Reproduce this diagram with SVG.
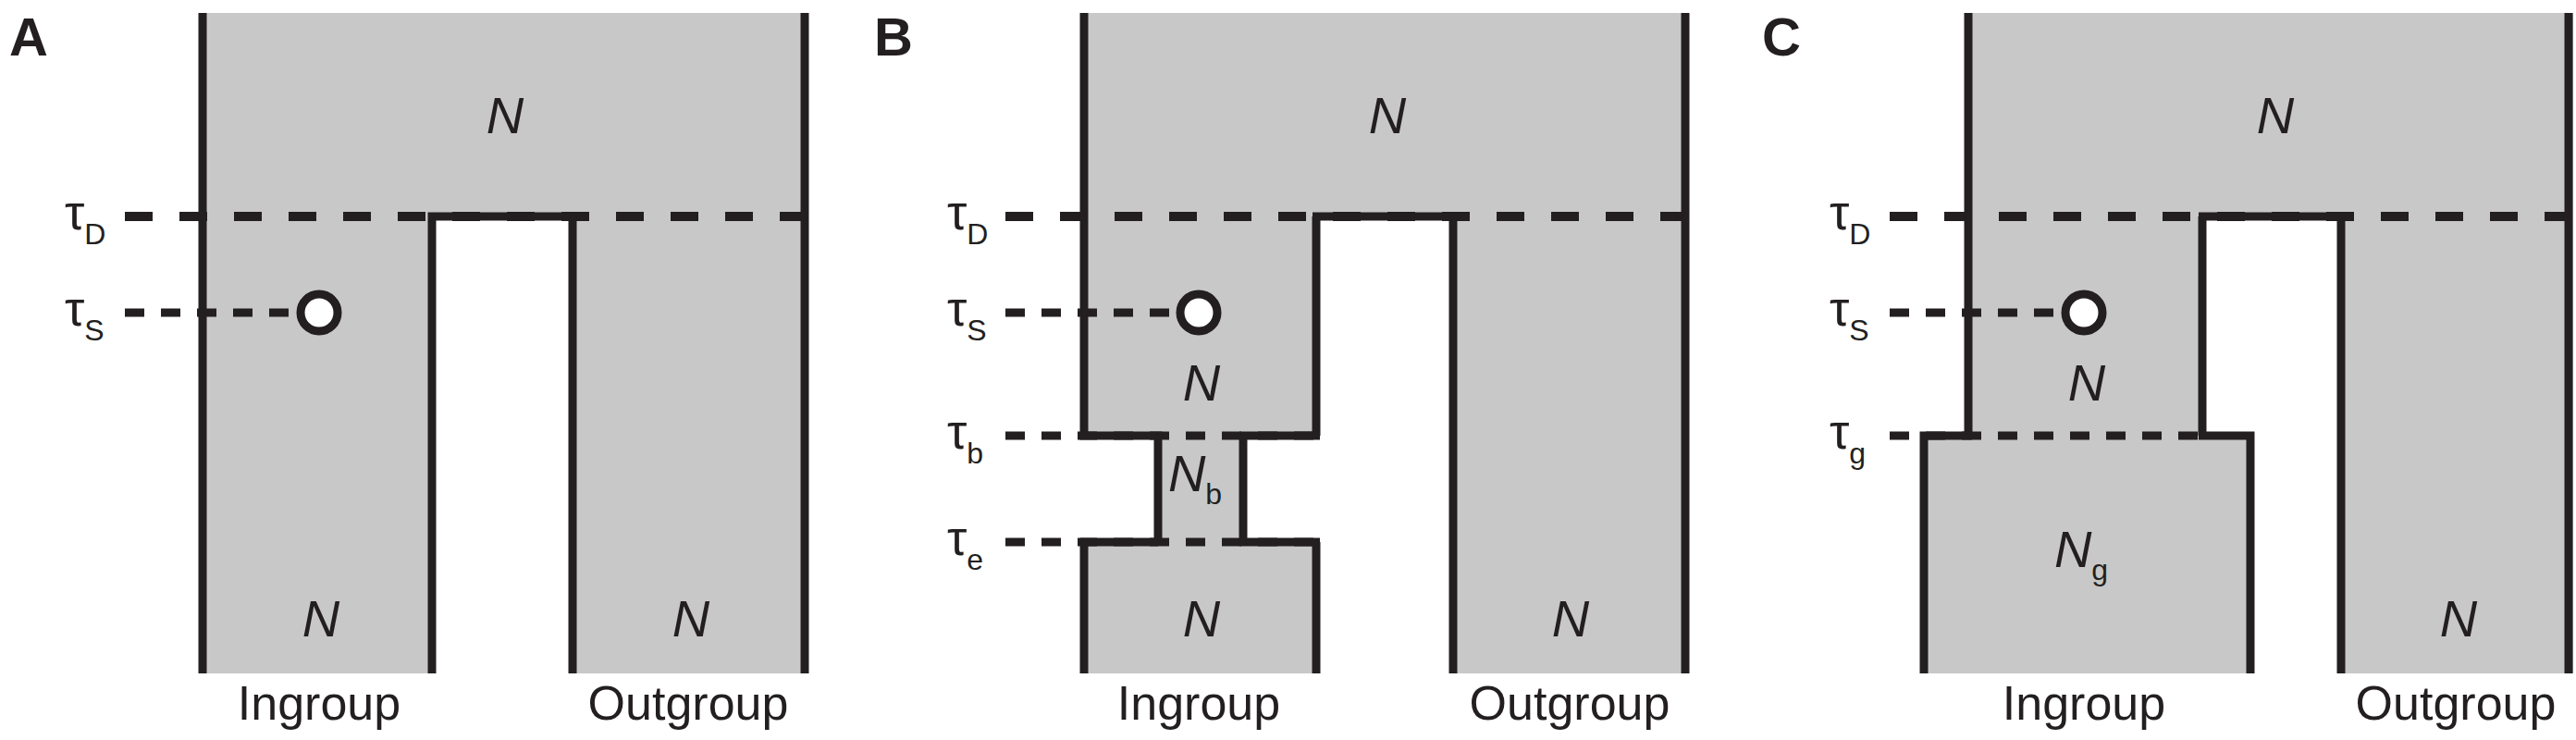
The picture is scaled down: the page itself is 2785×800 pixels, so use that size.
<svg xmlns="http://www.w3.org/2000/svg" width="2785" height="800" viewBox="0 0 2785 800">
<style>
.f{fill:#c8c8c8;stroke:none}
.w{fill:none;stroke:#231f20;stroke-width:9;stroke-linecap:butt}
.dD{fill:none;stroke:#231f20;stroke-width:10;stroke-dasharray:30 29}
.ds{fill:none;stroke:#231f20;stroke-width:9;stroke-dasharray:21 18}
.c{fill:#fff;stroke:#231f20;stroke-width:9}
.n{font-family:"Liberation Sans",Arial,sans-serif;font-style:italic;font-size:56px;fill:#231f20;text-anchor:middle}
.sub{font-style:normal;font-size:32px}
.t{font-family:"Liberation Sans",Arial,sans-serif;font-size:54px;fill:#231f20}
.ts{font-size:32px}
.lab{font-family:"Liberation Sans",Arial,sans-serif;font-size:52px;fill:#231f20;text-anchor:middle}
.pl{font-family:"Liberation Sans",Arial,sans-serif;font-size:58px;font-weight:bold;fill:#231f20}
</style>
<g id="panelA">
<text class="pl" x="10" y="60">A</text>
<path class="f" d="M219,14H870V728H619V234H471V728H219Z"/>
<g id="connectorsA">
<line class="dD" x1="135" y1="234" x2="870" y2="234"/>
<line class="ds" x1="135" y1="338" x2="322" y2="338"/>
</g>
<path class="w" d="M219,14V728M467,728V234H623M619,234V728M870,14V728"/>
<circle class="c" cx="345" cy="338" r="20"/>
<text class="t" x="70" y="248">τ<tspan class="ts" dy="16">D</tspan></text>
<text class="t" x="70" y="352">τ<tspan class="ts" dy="16">S</tspan></text>
<text class="n" x="546" y="144">N</text>
<text class="n" x="347" y="688">N</text>
<text class="n" x="747" y="688">N</text>
<text class="lab" x="345" y="778">Ingroup</text>
<text class="lab" x="744" y="778">Outgroup</text>
</g>
<g id="panelB">
<text class="pl" x="945" y="60">B</text>
<path class="f" d="M1172,14H1822V728H1571V234H1423V471H1344V586H1423V728H1172V586H1248V471H1172Z"/>
<g id="connectorsB">
<line class="dD" x1="1087" y1="234" x2="1822" y2="234"/>
<line class="ds" x1="1087" y1="338" x2="1273" y2="338"/>
<line class="ds" x1="1087" y1="471" x2="1423" y2="471"/>
<line class="ds" x1="1087" y1="586" x2="1423" y2="586"/>
</g>
<path class="w" d="M1172,14V471H1252V586M1168,471H1248M1340,471H1427M1423,234V471M1344,471V586M1168,586H1252M1340,586H1427M1172,586V728M1423,586V728M1419,234H1575M1571,234V728M1822,14V728"/>
<circle class="c" cx="1296" cy="338" r="20"/>
<text class="t" x="1024" y="248">τ<tspan class="ts" dy="16">D</tspan></text>
<text class="t" x="1024" y="352">τ<tspan class="ts" dy="16">S</tspan></text>
<text class="t" x="1024" y="485">τ<tspan class="ts" dy="16">b</tspan></text>
<text class="t" x="1024" y="600">τ<tspan class="ts" dy="16">e</tspan></text>
<text class="n" x="1500" y="144">N</text>
<text class="n" x="1299" y="433">N</text>
<text class="n" x="1292" y="531">N<tspan class="sub" dy="14">b</tspan></text>
<text class="n" x="1299" y="688">N</text>
<text class="n" x="1698" y="688">N</text>
<text class="lab" x="1296" y="778">Ingroup</text>
<text class="lab" x="1697" y="778">Outgroup</text>
</g>
<g id="panelC">
<text class="pl" x="1905" y="60">C</text>
<path class="f" d="M2128,14H2782V728H2531V234H2381V471H2433V728H2080V471H2128Z"/>
<g id="connectorsC">
<line class="dD" x1="2043" y1="234" x2="2782" y2="234"/>
<line class="ds" x1="2043" y1="338" x2="2234" y2="338"/>
<line class="ds" x1="2043" y1="471" x2="2381" y2="471"/>
</g>
<path class="w" d="M2128,14V471M2080,728V471H2132M2381,234V471M2377,471H2433V728M2377,234H2535M2531,234V728M2777,14V728"/>
<circle class="c" cx="2253" cy="338" r="20"/>
<text class="t" x="1978" y="248">τ<tspan class="ts" dy="16">D</tspan></text>
<text class="t" x="1978" y="352">τ<tspan class="ts" dy="16">S</tspan></text>
<text class="t" x="1978" y="485">τ<tspan class="ts" dy="16">g</tspan></text>
<text class="n" x="2460" y="144">N</text>
<text class="n" x="2256" y="433">N</text>
<text class="n" x="2250" y="613">N<tspan class="sub" dy="14">g</tspan></text>
<text class="n" x="2658" y="688">N</text>
<text class="lab" x="2253" y="778">Ingroup</text>
<text class="lab" x="2655" y="778">Outgroup</text>
</g>
</svg>
